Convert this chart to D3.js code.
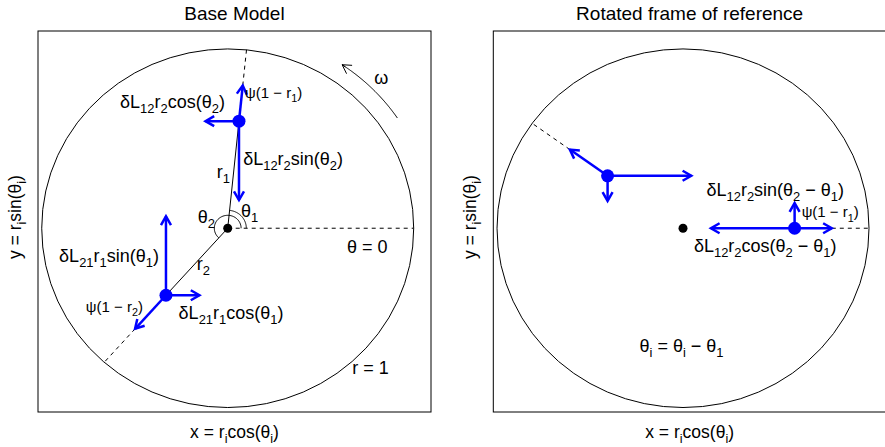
<!DOCTYPE html>
<html>
<head>
<meta charset="utf-8">
<script src="https://cdn.jsdelivr.net/npm/d3@7"></script>
<style>
  body { margin: 0; background: #fff; }
  text { font-family: "Liberation Sans", Arial, sans-serif; fill: #000; }
</style>
</head>
<body>
<script>
// ---- data ----
const radii = [0.6, 0.5];              // r1, r2
const thetaBase = [84.2, 228.4];       // theta1, theta2 in degrees
const psi = 0.5;                       // radial push is psi * (1 - r)
const forceXBase = [-0.18, 0.18];      // horizontal push on point 1, point 2
const forceYBase = [-0.44, 0.44];      // vertical push on point 1, point 2
const forceXRot = [-0.45, 0.45];       // same, in the rotated frame
const forceYRot = [0.14, -0.14];
const omegaArc = [34, 56];             // rotation arrow, degrees, at r = 1.1
const panelTitles = ["Base Model", "Rotated frame of reference"];

const W = 885, H = 447;
const xDomain = [-1.02, 1.093], yDomain = [-1.025, 1.10];
const boxTop = 31, boxBottom = 412;
const panelX = [[38, 431], [493.3, 886.3]];
const blue = "#0000ff";

const svg = d3.select("body").append("svg")
    .attr("width", W)
    .attr("height", H);

const rad = d => d * Math.PI / 180;
const polar = (r, deg) => [r * Math.cos(rad(deg)), r * Math.sin(rad(deg))];

// text with _{sub} support
function mathText(g, str, x, y, size, anchor, rotate) {
    const t = g.append("text")
        .attr("x", x).attr("y", y)
        .attr("font-size", size)
        .attr("text-anchor", anchor || "middle");
    if (rotate) t.attr("transform", `rotate(${rotate},${x},${y})`);
    const parts = str.split(/(_\{[^}]*\})/).filter(s => s);
    let shifted = false;
    parts.forEach(p => {
        if (p.startsWith("_{")) {
            t.append("tspan").attr("font-size", size * 0.72).attr("dy", size * 0.28).text(p.slice(2, -1));
            shifted = true;
        } else {
            const s = t.append("tspan").text(p);
            if (shifted) s.attr("dy", -size * 0.28);
            shifted = false;
        }
    });
    return t;
}

function arrow(g, x0, y0, x1, y1, color, width, head) {
    const a = Math.atan2(y1 - y0, x1 - x0);
    g.append("line")
        .attr("x1", x0).attr("y1", y0).attr("x2", x1).attr("y2", y1)
        .attr("stroke", color).attr("stroke-width", width);
    const h1 = [x1 - head * Math.cos(a - Math.PI / 6), y1 - head * Math.sin(a - Math.PI / 6)];
    const h2 = [x1 - head * Math.cos(a + Math.PI / 6), y1 - head * Math.sin(a + Math.PI / 6)];
    g.append("path")
        .attr("d", `M${h1[0]},${h1[1]}L${x1},${y1}L${h2[0]},${h2[1]}`)
        .attr("fill", "none").attr("stroke", color).attr("stroke-width", width)
        .attr("stroke-linejoin", "miter");
}

function panel(i) {
    const x = d3.scaleLinear().domain(xDomain).range(panelX[i]);
    const y = d3.scaleLinear().domain(yDomain).range([boxBottom, boxTop]);
    const g = svg.append("g");
    const line = d3.line().x(d => x(d[0])).y(d => y(d[1]));
    const arcPts = (r, a0, a1) =>
        d3.range(0, 61).map(k => polar(r, a0 + (a1 - a0) * k / 60));

    // box
    g.append("rect")
        .attr("x", panelX[i][0]).attr("y", boxTop)
        .attr("width", panelX[i][1] - panelX[i][0]).attr("height", boxBottom - boxTop)
        .attr("fill", "none").attr("stroke", "#000").attr("stroke-width", 1);

    // unit circle
    g.append("path").attr("d", line(arcPts(1, 0, 360)))
        .attr("fill", "none").attr("stroke", "#000").attr("stroke-width", 1);

    // titles
    const cx = (panelX[i][0] + Math.min(panelX[i][1], 886)) / 2;
    g.append("text").attr("x", cx).attr("y", 20).attr("text-anchor", "middle")
        .attr("font-size", 19).text(panelTitles[i]);
    mathText(g, "x = r_{i}cos(θ_{i})", cx, 438, 17.5, "middle");
    mathText(g, "y = r_{i}sin(θ_{i})", panelX[i][0] - 17, 217, 17.5, "middle", -90);

    const thetas = i === 0 ? thetaBase : thetaBase.map(t => t - thetaBase[0]);
    const fx = i === 0 ? forceXBase : forceXRot;
    const fy = i === 0 ? forceYBase : forceYRot;

    if (i === 0) {
        // horizontal reference, theta = 0
        g.append("line")
            .attr("x1", x(0)).attr("y1", y(0)).attr("x2", x(1)).attr("y2", y(0))
            .attr("stroke", "#000").attr("stroke-dasharray", "4,4");
        // radius lines
        radii.forEach((r, k) => {
            const p = polar(r, thetas[k]);
            g.append("line")
                .attr("x1", x(0)).attr("y1", y(0)).attr("x2", x(p[0])).attr("y2", y(p[1]))
                .attr("stroke", "#000").attr("stroke-width", 1);
        });
        // angle arcs
        g.append("path").attr("d", line(arcPts(0.1, 0, thetas[0])))
            .attr("fill", "none").attr("stroke", "#000");
        g.append("path").attr("d", line(arcPts(0.072, 0, thetas[1])))
            .attr("fill", "none").attr("stroke", "#000");
        // rotation arrow
        const om = arcPts(1.1, omegaArc[0], omegaArc[1]);
        g.append("path").attr("d", line(om)).attr("fill", "none").attr("stroke", "#000");
        const e = om[om.length - 1], pe = om[om.length - 4];
        arrow(g, x(pe[0]), y(pe[1]), x(e[0]), y(e[1]), "#000", 1, 10);
    }

    // dashed continuation to the rim
    radii.forEach((r, k) => {
        const a = polar(r + psi * (1 - r), thetas[k]);
        const b = polar(1, thetas[k]);
        g.append("line")
            .attr("x1", x(a[0])).attr("y1", y(a[1])).attr("x2", x(b[0])).attr("y2", y(b[1]))
            .attr("stroke", "#000").attr("stroke-dasharray", "4,4");
    });

    // center
    g.append("circle").attr("cx", x(0)).attr("cy", y(0)).attr("r", 4.5).attr("fill", "#000");

    // forces
    radii.forEach((r, k) => {
        const p = polar(r, thetas[k]);
        const q = polar(r + psi * (1 - r), thetas[k]);
        arrow(g, x(p[0]), y(p[1]), x(q[0]), y(q[1]), blue, 2.5, 10);
        arrow(g, x(p[0]), y(p[1]), x(p[0] + fx[k]), y(p[1]), blue, 2.5, 10);
        arrow(g, x(p[0]), y(p[1]), x(p[0]), y(p[1] + fy[k]), blue, 2.5, 10);
        g.append("circle").attr("cx", x(p[0])).attr("cy", y(p[1])).attr("r", 6.5).attr("fill", blue);
    });

    const labels = i === 0 ? leftLabels : rightLabels;
    labels.forEach(l => mathText(g, l.s, x(l.x), y(l.y), l.size || 18, l.a || "middle"));
}

const leftLabels = [
    { s: "δL_{12}r_{2}cos(θ_{2})", x: -0.297, y: 0.67 },
    { s: "ψ(1 − r_{1})", x: 0.093, y: 0.726, a: "start", size: 15 },
    { s: "δL_{12}r_{2}sin(θ_{2})", x: 0.083, y: 0.352, a: "start" },
    { s: "r_{1}", x: -0.059, y: 0.281, a: "start" },
    { s: "θ_{1}", x: 0.0715, y: 0.064, a: "start" },
    { s: "θ_{2}", x: -0.161, y: 0.027, a: "start" },
    { s: "θ = 0", x: 0.641, y: -0.137, a: "start" },
    { s: "r_{2}", x: -0.167, y: -0.234, a: "start" },
    { s: "δL_{21}r_{1}sin(θ_{1})", x: -0.638, y: -0.187 },
    { s: "ψ(1 − r_{2})", x: -0.609, y: -0.466, size: 15 },
    { s: "δL_{21}r_{1}cos(θ_{1})", x: 0.018, y: -0.508 },
    { s: "r = 1", x: 0.768, y: -0.813 },
    { s: "ω", x: 0.826, y: 0.804 }
];
const rightLabels = [
    { s: "δL_{12}r_{2}sin(θ_{2} − θ_{1})", x: 0.496, y: 0.18 },
    { s: "ψ(1 − r_{1})", x: 0.638, y: 0.06, a: "start", size: 15 },
    { s: "δL_{12}r_{2}cos(θ_{2} − θ_{1})", x: 0.442, y: -0.131 },
    { s: "θ_{i} = θ_{i} − θ_{1}", x: -0.008, y: -0.689 }
];

panel(0);
panel(1);
</script>
</body>
</html>
